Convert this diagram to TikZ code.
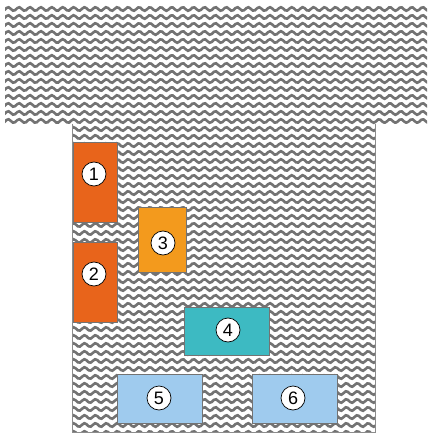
\documentclass[tikz,border=0pt]{standalone}
\usepackage{fontspec}
\setmainfont{Liberation Sans}
\begin{document}
\begin{tikzpicture}[x=1pt,y=-1pt,
  wave/.style={draw=black!55, line width=2.6pt},
  block/.style={draw=black!55, line width=0.7pt, rectangle, inner sep=0pt, anchor=north west},
  num/.style={circle, draw=black, line width=0.7pt, fill=white, minimum size=24pt, inner sep=0pt, font=\fontsize{18}{18}\selectfont}
]
\definecolor{redorange}{HTML}{E8641B}
\definecolor{amber}{HTML}{F39A1D}
\definecolor{teal}{HTML}{3DBAC2}
\definecolor{skyblue}{HTML}{9FCBEE}
\useasboundingbox (0,0) rectangle (428,435);
\fill[white] (0,0) rectangle (428,435);

% T-shaped floor with woven texture
\begin{scope}
  \clip (5,6) -- (427,6) -- (427,124) -- (375,124) -- (375,432) -- (72,432) -- (72,124) -- (5,124) -- cycle;
  \foreach \r in {0,...,53} {
    \pgfmathsetmacro{\yy}{9+8*\r}
    \draw[wave] plot[domain=0:430, samples=200, smooth] (\x, {\yy + 1.8*sin(33*\x)});
  }
\end{scope}
\draw[black!45, line width=0.8pt] (72,124) -- (72,432) -- (375,432) -- (375,124);

% blocks
\node[block, fill=redorange, minimum width=44pt, minimum height=80pt] (b1) at (73,142) {};
\node[block, fill=redorange, minimum width=44pt, minimum height=80pt] (b2) at (73,242) {};
\node[block, fill=amber, minimum width=48pt, minimum height=65pt] (b3) at (138,207) {};
\node[block, fill=teal, minimum width=85pt, minimum height=48pt] (b4) at (184,307) {};
\node[block, fill=skyblue, minimum width=85pt, minimum height=49pt] (b5) at (117,374) {};
\node[block, fill=skyblue, minimum width=85pt, minimum height=49pt] (b6) at (252,374) {};

% numbered markers
\node[num] (n1) at (94,174) {1};
\node[num] (n2) at (94,274) {2};
\node[num] (n3) at (163,243) {3};
\node[num] (n4) at (228,330) {4};
\node[num] (n5) at (159,398) {5};
\node[num] (n6) at (293,398) {6};
\end{tikzpicture}
\end{document}
